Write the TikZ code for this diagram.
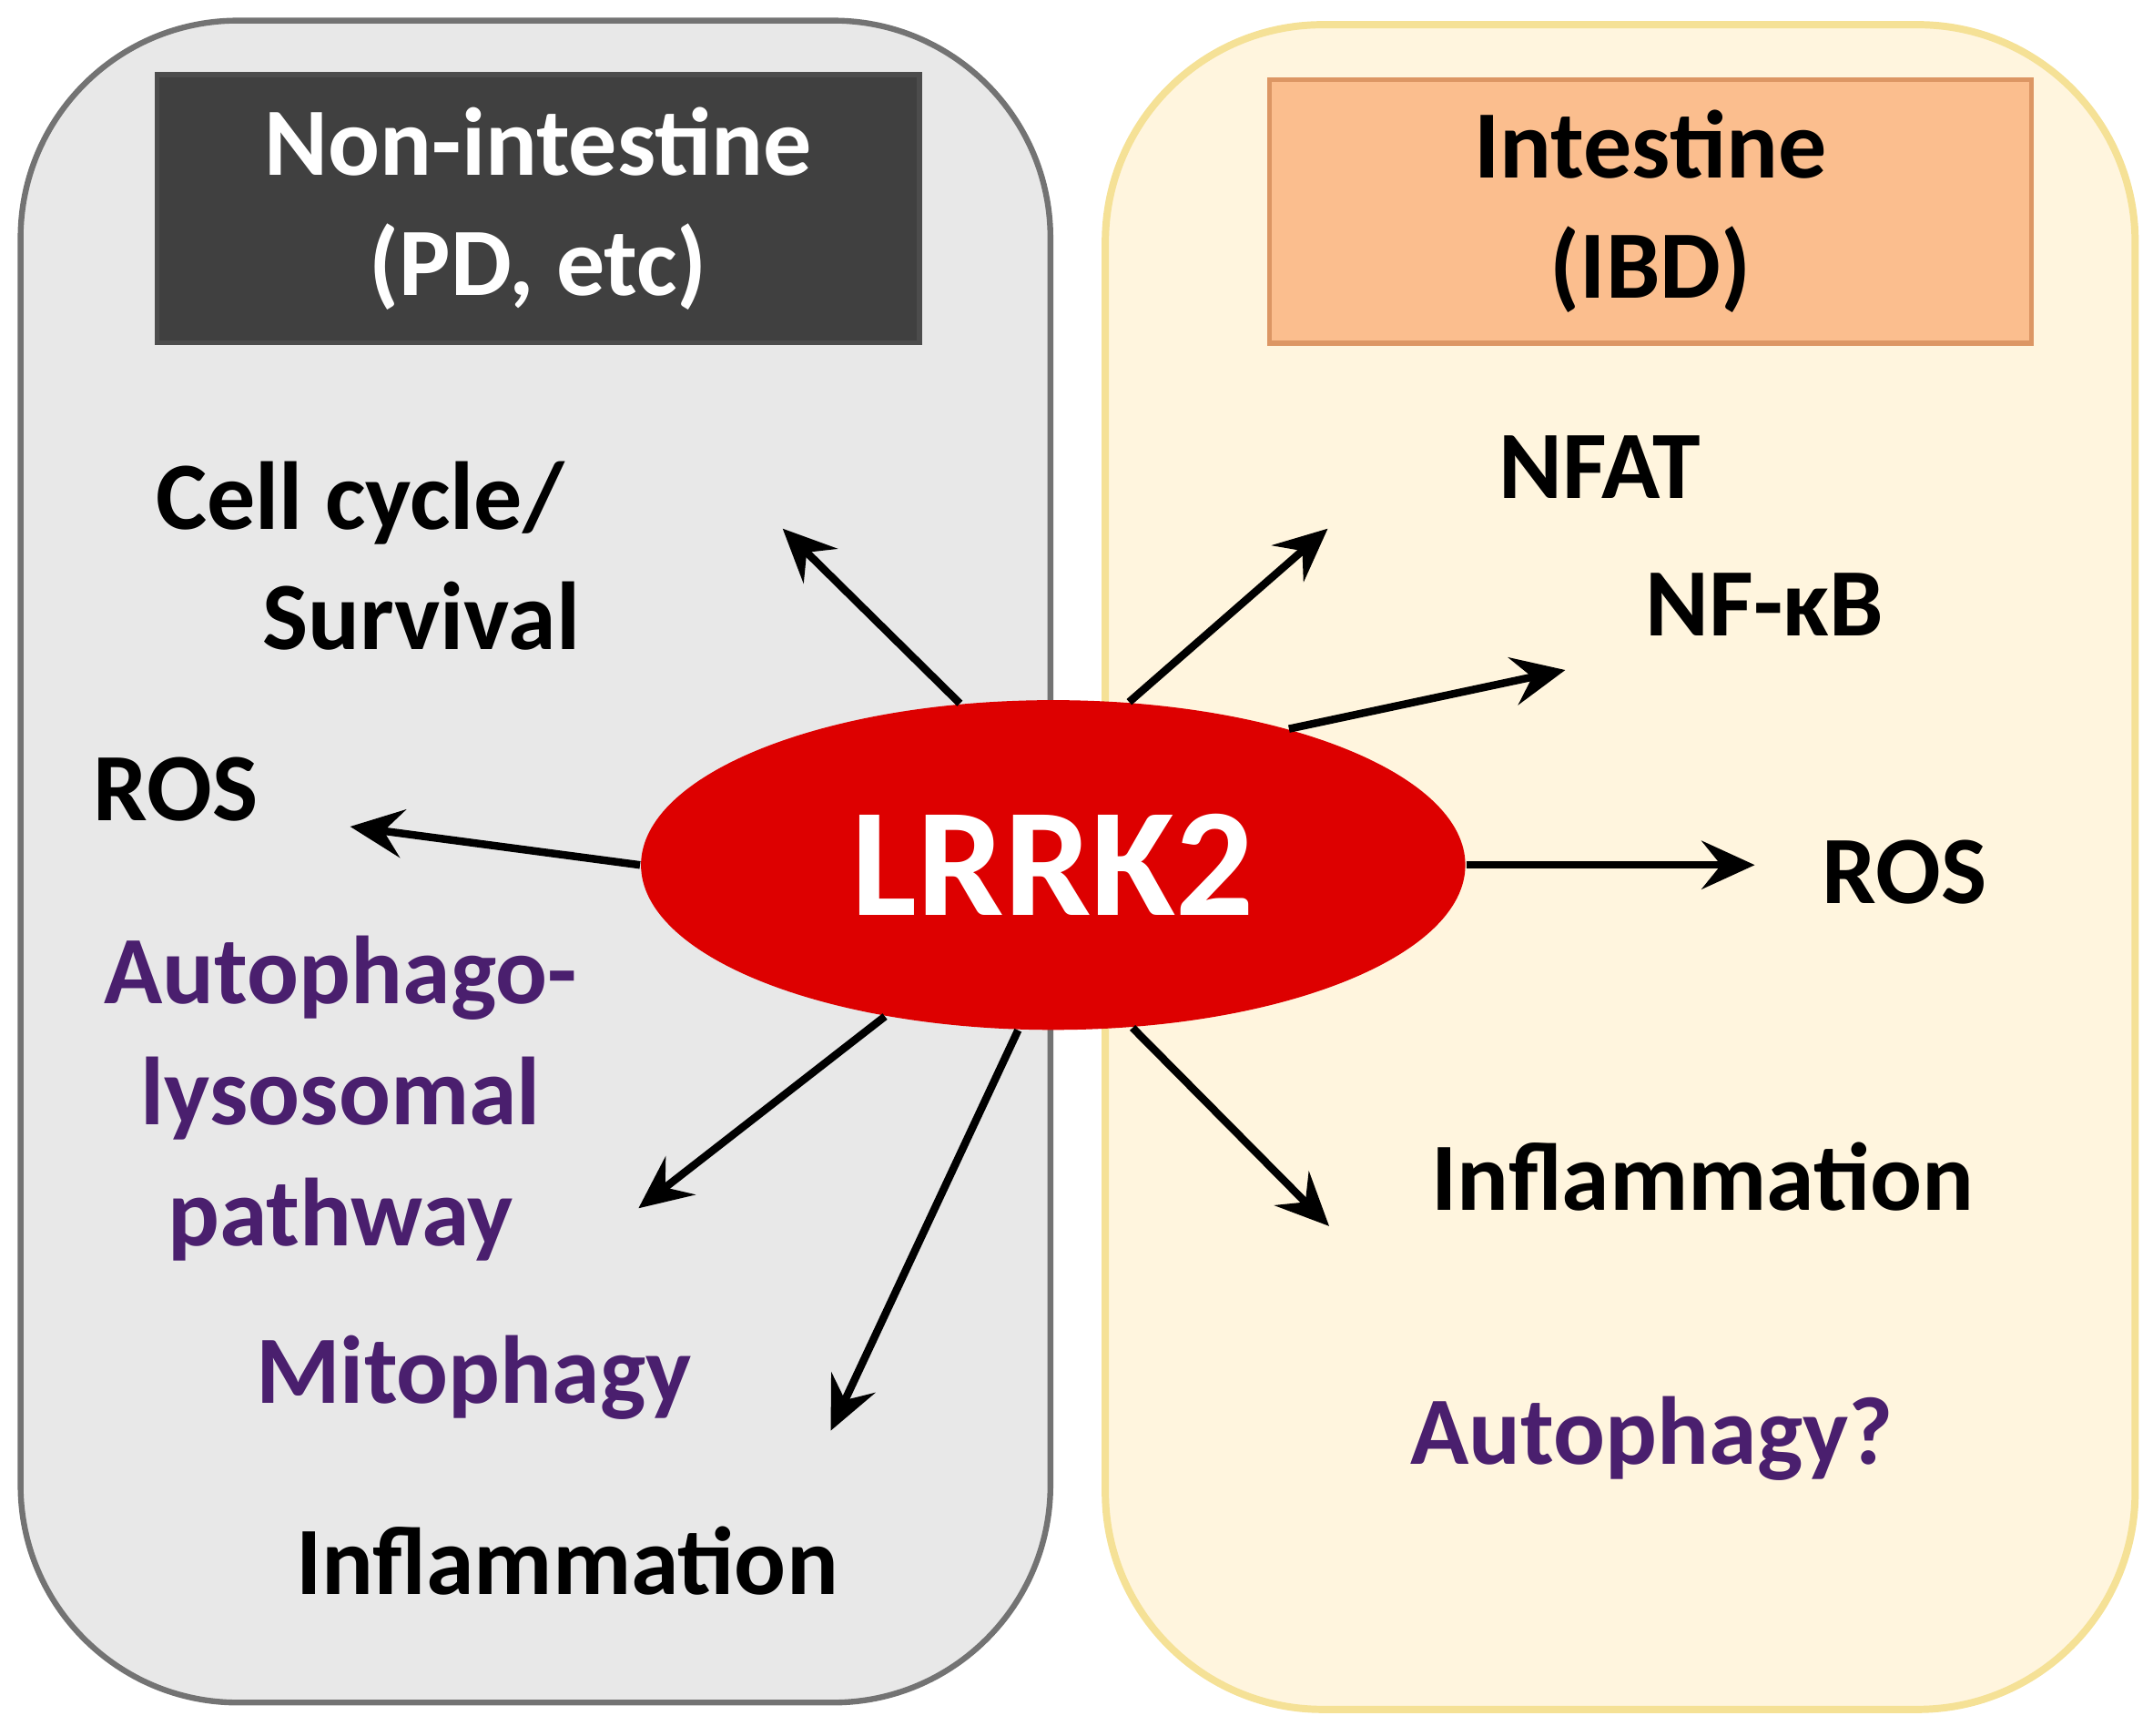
\documentclass[tikz,border=0pt]{standalone}
\usepackage{fontspec}
\setmainfont{Carlito}
\usetikzlibrary{shapes.geometric,arrows.meta}
\definecolor{purp}{HTML}{4A1F6E}
\begin{document}
\begin{tikzpicture}[x=0.01cm,y=-0.01cm,
  lab/.style={font=\bfseries\fontsize{20}{25}\selectfont,align=center,inner sep=0pt},
  pl/.style={lab,text=purp},
  arr/.style={-{Stealth[length=11pt,width=10pt,inset=4pt]},line width=1.6pt}]
\useasboundingbox (0,0) rectangle (1568,1264);
\draw[fill=gray!18,draw=gray!90!black,line width=1.2pt,rounded corners=45pt] (15,15) rectangle (765,1240);
\draw[fill={rgb,255:red,255;green,245;blue,222},draw={rgb,255:red,245;green,225;blue,150},line width=1.5pt,rounded corners=45pt] (805,18) rectangle (1555,1245);
\node[lab,fill={rgb,255:red,64;green,64;blue,64},draw=gray!60!black,text=white,minimum width=5.55cm,minimum height=1.95cm,line width=1pt] (h1) at (392,152) {Non-intestine\\(PD, etc)};
\node[lab,fill={rgb,255:red,251;green,190;blue,142},draw={rgb,255:red,220;green,150;blue,100},minimum width=5.55cm,minimum height=1.92cm,line width=1pt] (h2) at (1202,154) {Intestine\\(IBD)};
\node[ellipse,fill={rgb,255:red,221;green,0;blue,0},text=white,font=\bfseries\fontsize{32}{38}\selectfont,minimum width=6cm,minimum height=2.4cm,inner sep=0pt] (L) at (767,630) {LRRK2};
\node[lab,align=left] (cc) at (268,405) {Cell cycle/\\\hspace*{1.1em}Survival};
\node[lab] (r1) at (128,575) {ROS};
\node[pl] (ap) at (248,800) {Autophago-\\lysosomal\\pathway};
\node[pl] (mi) at (345,1003) {Mitophagy};
\node[lab] (i1) at (413,1137) {Inflammation};
\node[lab] (nf) at (1165,340) {NFAT};
\node[lab] (nk) at (1285,440) {NF-κB};
\node[lab] (r2) at (1387,635) {ROS};
\node[lab] (i2) at (1240,857) {Inflammation};
\node[pl] (au) at (1203,1048) {Autophagy?};
\coordinate (e1) at (570,385); \coordinate (e2) at (255,602);
\coordinate (e3) at (465,880); \coordinate (e4) at (605,1042);
\coordinate (e5) at (967,385); \coordinate (e6) at (1140,488);
\coordinate (e7) at (1278,630); \coordinate (e8) at (968,893);
\draw[arr] (L.120) -- (e1);
\draw[arr] (L.west) -- (e2);
\draw[arr] (L.222) -- (e3);
\draw[arr] (L.258) -- (e4);
\draw[arr] (L.65) -- (e5);
\draw[arr] (L.30) -- (e6);
\draw[arr] (L.east) -- (e7);
\draw[arr] (L.296) -- (e8);
\end{tikzpicture}
\end{document}
